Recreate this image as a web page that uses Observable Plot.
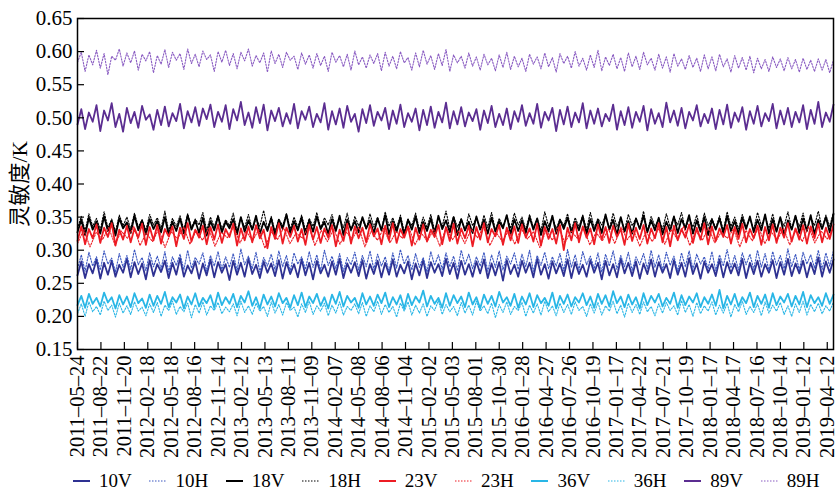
<!DOCTYPE html>
<html><head><meta charset="utf-8">
<script src="https://cdn.jsdelivr.net/npm/d3@7"></script>
<script src="https://cdn.jsdelivr.net/npm/@observablehq/plot@0.6"></script>
<style>
body{margin:0;background:#fff;}
#chart svg, #chart svg text{font-family:"Liberation Serif","Noto Sans CJK SC",serif !important;}
#legend{display:flex;margin-left:73px;height:22px;align-items:center;font-family:"Liberation Serif",serif;font-size:19px;color:#000;}
#legend .it{width:78px;display:flex;align-items:center;white-space:nowrap;}
#legend svg{margin-right:8px;}
</style>
</head><body>
<div id="chart"></div>
<div id="legend"></div>
<script>
const tickLabels = ["2011–05–24","2011–08–22","2011–11–20","2012–02–18","2012–05–18","2012–08–16","2012–11–14","2013–02–12","2013–05–13","2013–08–11","2013–11–09","2014–02–07","2014–05–08","2014–08–06","2014–11–04","2015–02–02","2015–05–03","2015–08–01","2015–10–30","2016–01–28","2016–04–27","2016–07–26","2016–10–19","2017–01–17","2017–04–22","2017–07–21","2017–10–19","2018–01–17","2018–04–17","2018–07–16","2018–10–14","2019–01–12","2019–04–12"];
const yTicks = [0.15,0.20,0.25,0.30,0.35,0.40,0.45,0.50,0.55,0.60,0.65];
const seriesNames = ["10V","10H","18V","18H","23V","23H","36V","36H","89V","89H"];
const seriesColors = ["#2e3192","#3a56c0","#000000","#000000","#ed1c24","#ed1c24","#29b6e6","#29b6e6","#5b2d91","#8a5cc2"];
const seriesDotted = [false,true,false,true,false,true,false,true,false,true];

const v10V = [.262,.283,.258,.279,.265,.286,.257,.281,.263,.284,.26,.278,.266,.287,.259,.282,.264,.28,.256,.285,
.261,.279,.267,.284,.258,.281,.263,.288,.26,.277,.265,.283,.257,.28,.262,.286,.259,.282,.266,.279,
.255,.284,.263,.281,.26,.287,.264,.278,.258,.283,.266,.28,.261,.285,.257,.282,.264,.279,.259,.286,
.262,.281,.256,.284,.265,.278,.26,.283,.263,.287,.258,.28,.266,.282,.261,.285,.257,.279,.264,.284,
.259,.281,.263,.286,.26,.278,.265,.283,.256,.28,.262,.285,.258,.282,.266,.279,.261,.287,.264,.281,
.257,.284,.263,.279,.26,.283,.265,.286,.258,.28,.262,.282,.254,.285,.264,.278,.26,.284,.266,.281,
.259,.287,.263,.279,.257,.283,.265,.28,.261,.286,.258,.282,.264,.278,.26,.285,.266,.281,.256,.284,
.262,.279,.259,.287,.265,.281,.261,.283,.257,.28,.264,.286,.26,.282,.266,.279,.258,.285,.263,.281,
.26,.288,.264,.28,.257,.283,.266,.279,.261,.286,.259,.282,.265,.28,.262,.287,.258,.281,.264,.284,
.26,.279,.266,.285,.258,.282,.263,.287,.261,.28,.265,.284,.259,.281,.264,.289,.26,.283,.266,.286];
const v10H = [.272,.293,.268,.297,.276,.29,.27,.299,.279,.288,.267,.295,.274,.292,.271,.301,.278,.289,.269,.296,
.275,.291,.272,.298,.267,.29,.277,.294,.27,.3,.273,.289,.279,.296,.268,.292,.276,.298,.271,.29,
.274,.295,.269,.302,.278,.291,.272,.297,.267,.289,.276,.294,.27,.299,.275,.292,.268,.296,.279,.29,
.271,.298,.274,.293,.269,.3,.277,.291,.272,.295,.268,.289,.278,.297,.27,.292,.275,.299,.271,.294,
.276,.29,.268,.296,.273,.301,.279,.292,.27,.295,.274,.289,.267,.298,.277,.293,.271,.296,.275,.291,
.269,.3,.278,.294,.272,.29,.276,.297,.268,.293,.274,.299,.27,.291,.279,.296,.271,.294,.275,.3,
.268,.292,.277,.297,.272,.29,.276,.295,.269,.301,.274,.293,.27,.298,.278,.291,.272,.296,.267,.294,
.276,.299,.271,.292,.275,.297,.269,.29,.278,.295,.272,.3,.274,.293,.27,.297,.277,.291,.268,.296,
.275,.299,.271,.294,.279,.29,.272,.298,.269,.293,.276,.301,.273,.292,.27,.296,.278,.294,.271,.3,
.274,.295,.269,.298,.277,.292,.272,.302,.275,.294,.27,.297,.279,.293,.273,.3,.271,.296,.276,.299];
const v18V = [.327,.346,.323,.349,.331,.343,.325,.351,.329,.344,.322,.348,.333,.342,.326,.352,.33,.345,.324,.347,
.332,.344,.327,.35,.323,.343,.329,.348,.325,.353,.331,.345,.326,.349,.322,.344,.33,.351,.327,.343,
.333,.347,.324,.35,.328,.345,.331,.352,.325,.343,.329,.348,.323,.346,.332,.354,.326,.344,.33,.349,
.324,.345,.328,.351,.332,.343,.325,.347,.329,.352,.323,.346,.331,.344,.327,.35,.333,.345,.326,.348,
.33,.353,.324,.344,.328,.349,.322,.346,.331,.351,.326,.343,.329,.348,.324,.352,.332,.345,.327,.35,
.323,.347,.33,.343,.326,.351,.331,.346,.325,.349,.328,.344,.333,.353,.324,.347,.329,.345,.326,.35,
.331,.348,.323,.344,.328,.352,.325,.346,.332,.349,.327,.343,.33,.351,.324,.347,.329,.345,.326,.354,
.331,.346,.323,.35,.328,.344,.325,.348,.332,.352,.327,.345,.33,.349,.324,.343,.329,.351,.326,.347,
.333,.353,.325,.345,.328,.35,.323,.346,.331,.348,.326,.352,.329,.344,.324,.349,.332,.351,.327,.346,
.33,.354,.325,.347,.328,.35,.323,.345,.331,.352,.326,.348,.329,.353,.324,.346,.332,.35,.327,.355];
const v18H = [.333,.351,.329,.355,.336,.348,.331,.358,.334,.347,.328,.353,.337,.35,.332,.356,.335,.346,.33,.354,
.338,.349,.333,.359,.329,.348,.336,.352,.331,.355,.334,.347,.338,.357,.33,.35,.335,.353,.332,.346,
.337,.356,.329,.349,.334,.354,.331,.348,.336,.36,.333,.351,.328,.347,.337,.355,.332,.35,.335,.353,
.33,.348,.336,.357,.333,.349,.338,.354,.331,.347,.334,.356,.329,.351,.337,.348,.332,.355,.335,.35,
.33,.358,.336,.349,.333,.353,.328,.347,.337,.356,.331,.35,.334,.354,.33,.348,.336,.359,.332,.351,
.335,.347,.329,.355,.337,.349,.331,.353,.334,.357,.33,.348,.336,.352,.333,.356,.338,.35,.331,.354,
.334,.348,.329,.358,.336,.351,.332,.347,.337,.355,.33,.349,.335,.353,.331,.357,.334,.348,.338,.352,
.332,.356,.335,.349,.33,.354,.337,.348,.333,.359,.329,.351,.336,.347,.332,.355,.334,.35,.338,.357,
.331,.349,.335,.353,.33,.356,.337,.348,.333,.352,.329,.358,.336,.35,.332,.354,.335,.348,.331,.357,
.337,.351,.333,.355,.33,.349,.336,.358,.332,.352,.335,.356,.33,.35,.337,.359,.333,.353,.336,.357];
const v23V = [.314,.336,.309,.332,.318,.339,.311,.334,.32,.341,.307,.331,.316,.337,.312,.333,.319,.34,.308,.335,
.315,.338,.31,.332,.321,.336,.306,.334,.317,.341,.313,.331,.319,.337,.309,.335,.316,.339,.311,.332,
.32,.34,.307,.333,.315,.336,.312,.338,.318,.331,.303,.335,.317,.341,.31,.334,.32,.337,.313,.332,
.308,.339,.316,.335,.311,.333,.319,.338,.306,.331,.314,.34,.31,.336,.318,.334,.312,.339,.321,.333,
.309,.337,.315,.341,.311,.332,.319,.336,.307,.334,.316,.339,.313,.331,.32,.338,.309,.335,.314,.34,
.31,.333,.318,.337,.306,.335,.316,.341,.312,.332,.321,.338,.308,.334,.315,.336,.311,.339,.319,.333,
.313,.34,.307,.335,.317,.332,.31,.338,.3,.334,.315,.341,.312,.336,.319,.333,.309,.339,.316,.335,
.311,.337,.32,.332,.308,.34,.314,.334,.317,.338,.31,.333,.318,.341,.312,.335,.306,.337,.315,.332,
.319,.339,.311,.334,.316,.341,.309,.336,.314,.333,.32,.338,.31,.335,.317,.34,.312,.332,.318,.337,
.308,.335,.315,.339,.311,.334,.319,.341,.313,.333,.316,.338,.31,.336,.318,.34,.312,.334,.317,.339];
const v23H = [.31,.331,.305,.327,.316,.334,.308,.329,.318,.336,.307,.326,.313,.332,.304,.328,.317,.335,.309,.33,.315,.333,.306,.327,.319,.336,.311,.329,.314,.331,.303,.328,.316,.334,.31,.326,.318,.337,.307,.33,.313,.332,.309,.327,.317,.335,.305,.329,.315,.333,.311,.328,.318,.336,.308,.326,.314,.331,.306,.334,.316,.329,.31,.332,.319,.335,.307,.327,.313,.33,.309,.333,.317,.328,.304,.331,.315,.336,.311,.329,.318,.334,.308,.327,.314,.332,.31,.335,.316,.33,.306,.328,.313,.333,.309,.331,.317,.336,.307,.329,.315,.334,.311,.327,.318,.332,.305,.33,.314,.335,.31,.328,.316,.333,.308,.331,.313,.336,.311,.329,.317,.334];
const v36V = [.217,.231,.213,.234,.219,.228,.215,.236,.221,.229,.212,.232,.218,.23,.214,.235,.22,.227,.213,.233,
.216,.231,.219,.237,.214,.229,.221,.233,.212,.23,.218,.235,.215,.228,.22,.232,.213,.236,.217,.229,
.219,.234,.214,.231,.221,.238,.216,.229,.212,.233,.218,.23,.215,.235,.22,.228,.213,.232,.217,.236,
.214,.23,.22,.234,.216,.229,.212,.233,.219,.237,.215,.231,.221,.228,.213,.235,.218,.23,.216,.233,
.22,.236,.214,.229,.218,.232,.212,.234,.217,.23,.221,.239,.215,.231,.219,.228,.213,.235,.216,.232,
.22,.23,.214,.236,.218,.229,.212,.233,.219,.231,.215,.237,.221,.229,.216,.234,.213,.23,.218,.235,
.214,.232,.22,.228,.216,.236,.212,.231,.219,.233,.215,.229,.221,.235,.217,.23,.213,.234,.219,.232,
.215,.238,.22,.23,.214,.233,.218,.229,.212,.235,.217,.231,.221,.234,.215,.228,.219,.236,.213,.232,
.217,.23,.221,.235,.214,.229,.219,.233,.216,.24,.212,.231,.218,.234,.215,.229,.22,.236,.214,.231,
.219,.233,.213,.235,.217,.23,.221,.234,.215,.231,.218,.237,.214,.232,.22,.229,.216,.235,.219,.233];
const v36H = [.204,.219,.2,.222,.207,.215,.202,.223,.209,.217,.199,.22,.205,.216,.203,.222,.208,.214,.201,.219,
.206,.221,.2,.217,.209,.223,.203,.215,.207,.22,.198,.218,.205,.222,.202,.216,.209,.221,.204,.214,
.207,.219,.201,.223,.206,.216,.203,.22,.208,.215,.2,.222,.205,.218,.202,.221,.209,.214,.199,.219,
.206,.223,.203,.216,.208,.22,.201,.217,.205,.222,.202,.215,.209,.219,.204,.221,.2,.216,.207,.223,
.203,.218,.206,.215,.199,.22,.208,.222,.202,.217,.205,.219,.2,.216,.209,.224,.203,.218,.207,.215,
.201,.221,.205,.217,.202,.223,.208,.216,.204,.22,.198,.218,.206,.222,.203,.215,.209,.221,.2,.217,
.205,.219,.202,.223,.207,.216,.201,.22,.206,.218,.203,.222,.209,.215,.2,.219,.205,.221,.202,.216,
.208,.223,.204,.217,.199,.22,.206,.218,.203,.222,.207,.215,.201,.219,.205,.221,.209,.216,.202,.224,
.206,.218,.2,.221,.204,.216,.208,.222,.202,.217,.205,.22,.199,.218,.207,.223,.203,.215,.206,.219,
.201,.222,.205,.217,.208,.221,.203,.216,.2,.219,.206,.223,.202,.218,.207,.22,.204,.216,.208,.222];
const v89V = [.49,.513,.483,.508,.494,.519,.48,.511,.496,.522,.486,.506,.479,.515,.492,.509,.485,.518,.497,.505,
.482,.512,.489,.517,.487,.507,.495,.521,.484,.51,.493,.516,.488,.514,.498,.52,.486,.509,.494,.519,
.483,.513,.496,.524,.489,.508,.485,.516,.492,.52,.481,.511,.495,.515,.487,.507,.491,.521,.484,.51,
.497,.517,.486,.506,.493,.522,.482,.51,.49,.514,.485,.518,.494,.506,.479,.513,.492,.519,.488,.509,
.496,.515,.483,.511,.491,.52,.486,.507,.494,.514,.481,.512,.489,.517,.485,.509,.493,.523,.484,.51,
.49,.516,.487,.508,.495,.513,.482,.511,.492,.518,.486,.506,.489,.514,.483,.51,.494,.519,.488,.507,
.491,.521,.485,.509,.496,.515,.48,.512,.49,.517,.486,.508,.493,.522,.484,.511,.491,.514,.487,.506,
.495,.52,.482,.51,.489,.516,.485,.509,.494,.518,.481,.513,.491,.507,.486,.523,.493,.511,.488,.515,
.484,.509,.496,.519,.487,.506,.492,.514,.483,.512,.49,.52,.485,.508,.494,.516,.482,.51,.491,.518,
.487,.507,.495,.521,.484,.511,.49,.515,.486,.509,.493,.519,.483,.512,.491,.524,.486,.508,.494,.52];
const v89H = [.584,.599,.57,.595,.58,.602,.575,.597,.565,.593,.587,.604,.578,.598,.583,.601,.572,.596,.586,.6,
.568,.594,.581,.603,.576,.599,.587,.597,.573,.604,.582,.596,.577,.601,.588,.595,.57,.6,.584,.602,
.579,.597,.574,.599,.586,.604,.578,.594,.583,.598,.569,.601,.582,.596,.576,.599,.587,.593,.573,.598,
.581,.595,.575,.597,.579,.593,.57,.599,.584,.594,.577,.596,.572,.601,.58,.592,.575,.595,.582,.597,
.571,.599,.578,.593,.574,.6,.583,.591,.572,.598,.577,.602,.581,.594,.573,.597,.579,.603,.57,.595,
.583,.593,.575,.598,.578,.592,.572,.596,.58,.59,.571,.595,.576,.599,.573,.593,.577,.59,.57,.596,
.581,.592,.574,.598,.577,.591,.569,.597,.582,.593,.575,.6,.578,.59,.572,.595,.576,.602,.571,.592,
.579,.596,.574,.591,.57,.598,.577,.593,.573,.599,.58,.59,.572,.596,.575,.592,.569,.597,.578,.589,
.573,.594,.576,.59,.57,.595,.574,.592,.571,.596,.577,.589,.569,.594,.575,.591,.572,.593,.568,.59,
.574,.588,.57,.592,.576,.589,.571,.591,.574,.588,.569,.59,.573,.587,.57,.589,.572,.588,.568,.587];

const seriesValues = [v10V,v10H,v18V,v18H,v23V,v23H,v36V,v36H,v89V,v89H];
const lastIndex = 2904;      // samples covered by the x axis
const tickStep = 90;         // samples between labelled ticks
const tickIdx = tickLabels.map((_, i) => i * tickStep);

const W = 837, H = 470, mL = 77, mR = 4, mT = 18, mB = 121;
const innerW = W - mL - mR, innerH = H - mT - mB, tickLen = 7;
const FONT = "Liberation Serif, Noto Sans CJK SC, serif";

const marks = [];
seriesValues.forEach((vals, k) => {
  const step = lastIndex / (vals.length - 1);
  const data = vals.map((v, i) => ({x: i * step, y: v}));
  marks.push(Plot.line(data, {
    x: "x", y: "y",
    stroke: seriesColors[k],
    strokeWidth: seriesDotted[k] ? 1.1 : 1.8,
    strokeDasharray: seriesDotted[k] ? "1.5,1.5" : null
  }));
});
marks.push(
  Plot.ruleX(tickIdx, {x: d => d, insetTop: innerH - tickLen, stroke: "#000", strokeWidth: 1.2}),
  Plot.ruleY(yTicks, {y: d => d, insetRight: innerW - tickLen, stroke: "#000", strokeWidth: 1.2}),
  Plot.axisX({ticks: tickIdx, tickSize: 0, tickPadding: 6, tickRotate: -90, fontFamily: FONT, fontSize: 20.5,
    tickFormat: d => tickLabels[Math.round(d / tickStep)], label: null}),
  Plot.axisY({ticks: yTicks, tickSize: 0, tickPadding: 5, tickFormat: d => d.toFixed(2), fontFamily: FONT, fontSize: 21,
    label: "灵敏度/K", labelArrow: "none", labelAnchor: "center", labelOffset: 66}),
  Plot.frame({stroke: "#000", strokeWidth: 1.5})
);

const chart = Plot.plot({
  width: W, height: H,
  marginLeft: mL, marginRight: mR, marginTop: mT, marginBottom: mB,
  style: {fontFamily: FONT, fontSize: "20px", color: "#000", background: "#fff"},
  x: {type: "linear", domain: [0, lastIndex]},
  y: {domain: [0.15, 0.65]},
  marks
});
chart.setAttribute("font-family", FONT);
d3.select(chart).selectAll('g[aria-label="y-axis label"] text').attr("font-size", 21.5);
document.getElementById("chart").appendChild(chart);

const legend = document.getElementById("legend");
seriesNames.forEach((n, k) => {
  const it = document.createElement("div");
  it.className = "it";
  it.innerHTML = `<svg width="18" height="10"><line x1="0" y1="5" x2="17" y2="5" stroke="${seriesColors[k]}" stroke-width="${seriesDotted[k] ? 1.2 : 2}" ${seriesDotted[k] ? 'stroke-dasharray="1.5,1.5"' : ''}/></svg><span>${n}</span>`;
  legend.appendChild(it);
});
</script>
</body></html>
